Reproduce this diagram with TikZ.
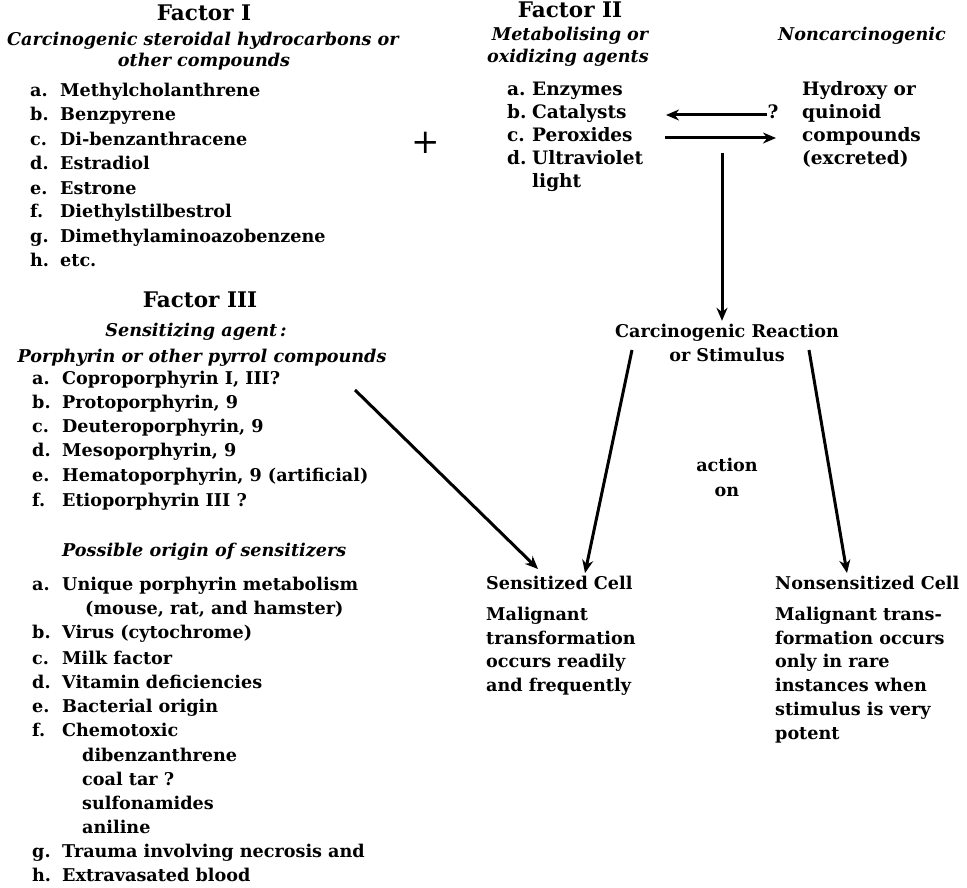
\documentclass[tikz,border=0pt]{standalone}
\usepackage{fontspec}
\setmainfont{DejaVu Serif}
\usetikzlibrary{arrows.meta}
\newcommand\lb[2]{\makebox[30pt][l]{#1}#2}
\newcommand\lbs[2]{\makebox[25pt][l]{#1}#2}
\begin{document}
\begin{tikzpicture}[x=1pt,y=-1pt,
  tx/.style={font=\fontsize{17.6}{20}\selectfont\bfseries, inner sep=0pt, text height=12pt, text depth=4pt},
  tr/.style={tx, font=\fontsize{18.5}{20}\selectfont\bfseries},
  hd/.style={tx, font=\fontsize{21.5}{24}\selectfont\bfseries},
  it/.style={font=\fontsize{17.6}{20}\selectfont\bfseries\itshape, inner sep=0pt, text height=12pt, text depth=4pt},
  li/.style={tx, anchor=west},
  lr/.style={tr, anchor=west},
  arr/.style={line width=3pt, -{Stealth[length=13pt,width=11pt]}}]
\fill[white] (0,0) rectangle (967,888);
\useasboundingbox (0,0) rectangle (967,888);
% Factor I
\node[hd] (f1) at (204,17) {Factor I};
\node[it] (f1s1) at (203,42) {Carcinogenic steroidal hydrocarbons or};
\node[it] (f1s2) at (204,63) {other compounds};
\node[li] (f1a) at (30,93) {\lb{a.}{Methylcholanthrene}};
\node[li] (f1b) at (30,117) {\lb{b.}{Benzpyrene}};
\node[li] (f1c) at (30,142) {\lb{c.}{Di-benzanthracene}};
\node[li] (f1d) at (30,166) {\lb{d.}{Estradiol}};
\node[li] (f1e) at (30,190) {\lb{e.}{Estrone}};
\node[li] (f1f) at (30,214) {\lb{f.}{Diethylstilbestrol}};
\node[li] (f1g) at (30,238) {\lb{g.}{Dimethylaminoazobenzene}};
\node[li] (f1h) at (30,262) {\lb{h.}{etc.}};
\node[font=\fontsize{34}{34}\selectfont, inner sep=0pt] (plus) at (426,143) {+};
% Factor II
\node[hd] (f2) at (570,14) {Factor II};
\node[it] (f2s1) at (570,37) {Metabolising or};
\node[it] (f2s2) at (568,59) {oxidizing agents};
\node[lr] (f2a) at (507,92) {\lbs{a.}{Enzymes}};
\node[lr] (f2b) at (507,115) {\lbs{b.}{Catalysts}};
\node[lr] (f2c) at (507,138) {\lbs{c.}{Peroxides}};
\node[lr] (f2d) at (507,161) {\lbs{d.}{Ultraviolet}};
\node[lr] (f2e) at (532,184) {light};
% Noncarcinogenic
\node[it] (nonc) at (862,37) {Noncarcinogenic};
\node[lr] (hy1) at (802,92) {Hydroxy or};
\node[lr] (hy2) at (802,115) {quinoid};
\node[lr] (hy3) at (802,138) {compounds};
\node[lr] (hy4) at (802,161) {(excreted)};
\node[tr] (qm) at (773,115) {?};
\coordinate (bL) at (666,115);
\coordinate (cL) at (665,138);
\coordinate (cR) at (776,138);
\draw[arr] (qm.west) -- (bL);
\draw[arr] (cL) -- (cR);
% reaction
\coordinate (vtop) at (722,153);
\node[tx] (cr1) at (727,333) {Carcinogenic Reaction};
\node[tx] (cr2) at (727,357) {or Stimulus};
\draw[arr] (vtop) -- ([yshift=4pt]cr1.north -| vtop);
\node[tx] (act1) at (727,467) {action};
\node[tx] (act2) at (727,492) {on};
\coordinate (lt) at (632,350);
\coordinate (lbot) at (585,573);
\coordinate (rt) at (809,350);
\coordinate (rbot) at (847,573);
\coordinate (dt) at (355,390);
\coordinate (dbot) at (538,569);
\draw[arr] (lt) -- (lbot);
\draw[arr] (rt) -- (rbot);
\draw[arr] (dt) -- (dbot);
% cells
\node[li] (sc) at (486,585) {Sensitized Cell};
\node[li] (sc1) at (486,616) {Malignant};
\node[li] (sc2) at (486,640) {transformation};
\node[li] (sc3) at (486,663) {occurs readily};
\node[li] (sc4) at (486,687) {and frequently};
\node[li] (nc) at (775,585) {Nonsensitized Cell};
\node[li] (nc1) at (775,616) {Malignant trans-};
\node[li] (nc2) at (775,640) {formation occurs};
\node[li] (nc3) at (775,663) {only in rare};
\node[li] (nc4) at (775,687) {instances when};
\node[li] (nc5) at (775,711) {stimulus is very};
\node[li] (nc6) at (775,735) {potent};
% Factor III
\node[hd] (f3) at (200,303) {Factor III};
\node[it] (f3s) at (196,332) {Sensitizing agent\,:};
\node[it] (f3p) at (202,358) {Porphyrin or other pyrrol compounds};
\node[li] (f3a) at (32,380) {\lb{a.}{Coproporphyrin I, III?}};
\node[li] (f3b) at (32,404) {\lb{b.}{Protoporphyrin, 9}};
\node[li] (f3c) at (32,428) {\lb{c.}{Deuteroporphyrin, 9}};
\node[li] (f3d) at (32,452) {\lb{d.}{Mesoporphyrin, 9}};
\node[li] (f3e) at (32,477) {\lb{e.}{Hematoporphyrin, 9 (artificial)}};
\node[li] (f3f) at (32,502) {\lb{f.}{Etioporphyrin III ?}};
\node[it, anchor=west] (po) at (62,552) {Possible origin of sensitizers};
\node[li] (poa) at (32,586) {\lb{a.}{Unique porphyrin metabolism}};
\node[li] (poa2) at (85,610) {(mouse, rat, and hamster)};
\node[li] (pob) at (32,634) {\lb{b.}{Virus (cytochrome)}};
\node[li] (poc) at (32,660) {\lb{c.}{Milk factor}};
\node[li] (pod) at (32,684) {\lb{d.}{Vitamin deficiencies}};
\node[li] (poe) at (32,708) {\lb{e.}{Bacterial origin}};
\node[li] (pof) at (32,732) {\lb{f.}{Chemotoxic}};
\node[li] (pof1) at (82,757) {dibenzanthrene};
\node[li] (pof2) at (82,781) {coal tar ?};
\node[li] (pof3) at (82,805) {sulfonamides};
\node[li] (pof4) at (82,829) {aniline};
\node[li] (pog) at (32,853) {\lb{g.}{Trauma involving necrosis and}};
\node[li] (poh) at (32,877) {\lb{h.}{Extravasated blood}};
\end{tikzpicture}
\end{document}
